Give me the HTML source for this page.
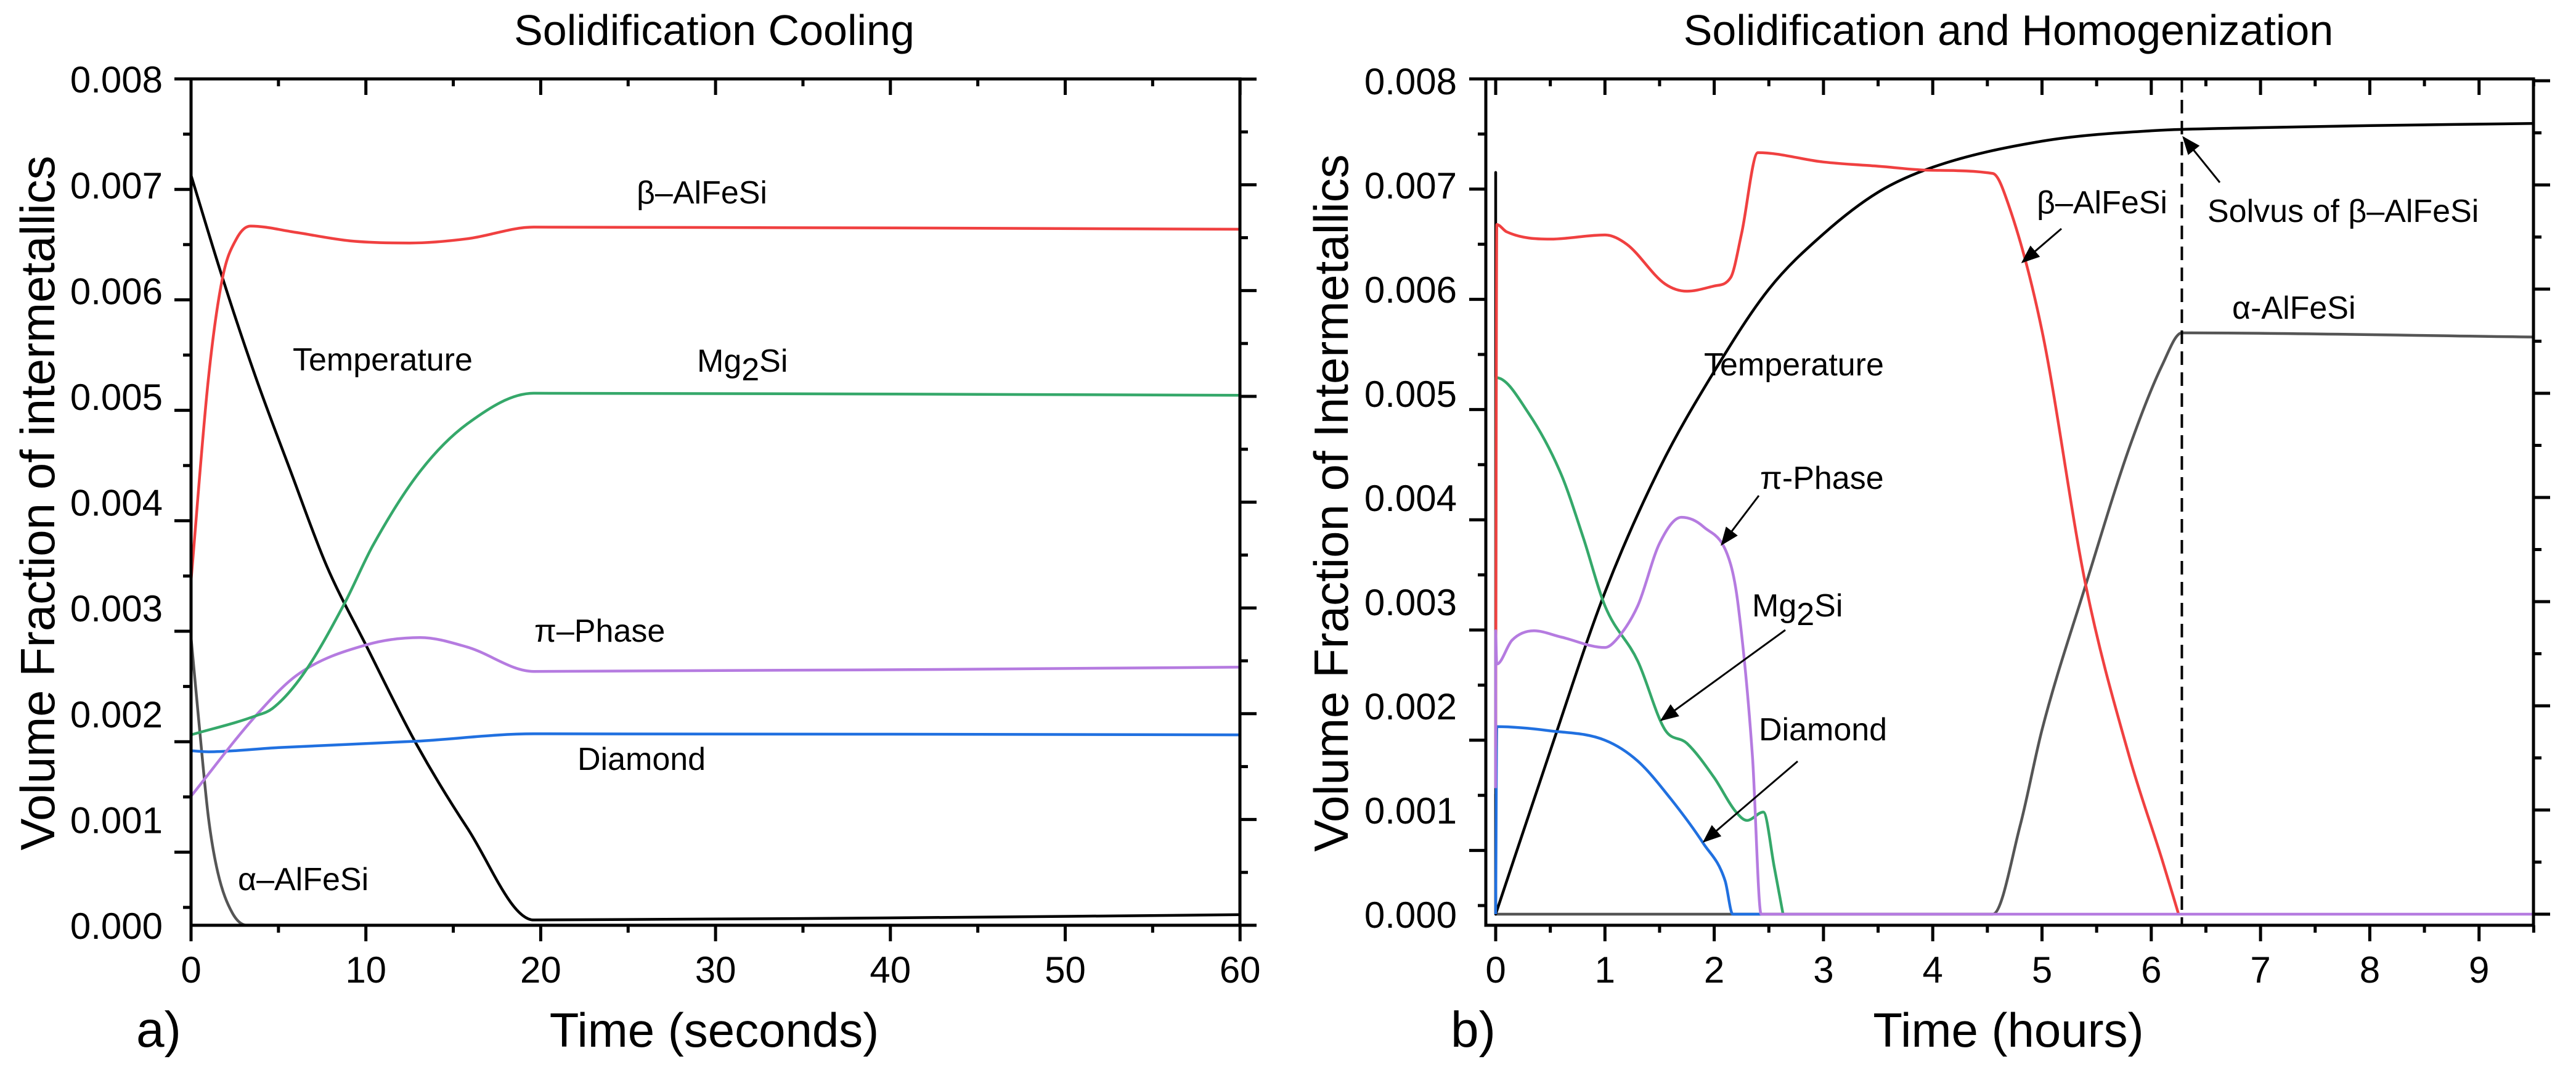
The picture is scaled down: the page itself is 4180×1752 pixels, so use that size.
<!DOCTYPE html>
<html><head><meta charset="utf-8"><style>
html,body{margin:0;padding:0;background:#fff;}
svg{display:block;font-family:"Liberation Sans",sans-serif;}
</style></head><body>
<svg id="chart" width="4180" height="1752" viewBox="0 0 4180 1752" xmlns="http://www.w3.org/2000/svg">
<rect width="4180" height="1752" fill="#fff"/>
<g id="plotA"></g>
<g id="plotB"></g>
<g id="labels" font-size="52" fill="#000">
 <text x="1159" y="73" font-size="70" text-anchor="middle">Solidification Cooling</text>
 <text x="3259" y="73" font-size="70" text-anchor="middle">Solidification and Homogenization</text>
 <text transform="translate(88,816) rotate(-90)" font-size="78" text-anchor="middle">Volume Fraction of intermetallics</text>
 <text transform="translate(2187,816) rotate(-90)" font-size="78" text-anchor="middle">Volume Fraction of Intermetallics</text>
 <text x="1159" y="1698" font-size="78" text-anchor="middle">Time (seconds)</text>
 <text x="3259" y="1698" font-size="78" text-anchor="middle">Time (hours)</text>
 <text x="221" y="1698" font-size="82">a)</text>
 <text x="2354" y="1698" font-size="82">b)</text>
 <text x="1033" y="330">β–AlFeSi</text>
 <text x="475" y="601">Temperature</text>
 <text x="1131" y="603">Mg<tspan dy="14">2</tspan><tspan dy="-14">Si</tspan></text>
 <text x="867" y="1041">π–Phase</text>
 <text x="937" y="1249">Diamond</text>
 <text x="386" y="1444">α–AlFeSi</text>
 <text x="3305" y="346">β–AlFeSi</text>
 <text x="3582" y="360">Solvus of β–AlFeSi</text>
 <text x="3622" y="517">α-AlFeSi</text>
 <text x="2765" y="609">Temperature</text>
 <text x="2856" y="793">π-Phase</text>
 <text x="2843" y="1000">Mg<tspan dy="14">2</tspan><tspan dy="-14">Si</tspan></text>
 <text x="2854" y="1201">Diamond</text>
</g>
</svg>
<script>
// ---- Panel a data (time in seconds, volume fraction in 1e-3) ----
const aBetaT = [0,1,1.8,2.6,3.4,6,9.1,12.5,15.8,19.6,60];
const aBetaV = [3.26,5.18,6.12,6.49,6.61,6.55,6.47,6.45,6.49,6.60,6.58];
const aTempT = [0,1.8,3.7,5.7,7.75,10,12.9,15.8,19.6,40,60];
const aTempV = [7.09,6.12,5.18,4.29,3.40,2.65,1.71,0.92,0.05,0.07,0.10];
const aMgT = [0,3.7,4.66,6.4,8.8,10.4,13.1,15.8,19.6,60];
const aMgV = [1.80,1.98,2.05,2.37,3.05,3.59,4.29,4.74,5.03,5.01];
const aPiT = [0,3.7,6.1,10,13.1,15.8,19.6,60];
const aPiV = [1.22,1.98,2.37,2.65,2.72,2.63,2.40,2.44];
const aDiaT = [0,1,5,12.9,19.6,60];
const aDiaV = [1.65,1.64,1.68,1.74,1.81,1.80];
const aAlphaT = [0,0.46,1.0,1.53,2.35,3.2,3.6];
const aAlphaV = [2.72,1.90,1.01,0.50,0.12,0,0];
const aXTicks = [0,10,20,30,40,50,60];
const aYTicks = [0,1,2,3,4,5,6,7,8];

// ---- Panel b data (time in hours, volume fraction in 1e-3) ----
const bTempT = [0,0,0,0.5,1,1.5,2,2.5,3,3.5,4,5,6,7,8,9.5];
const bTempV = [0,7.12,0,1.57,3.09,4.28,5.21,6.0,6.53,6.93,7.17,7.42,7.52,7.55,7.57,7.59];
const bBetaT = [0,0.01,0.1,0.5,1.0,1.2,1.55,1.75,2.0,2.15,2.25,2.4,3,3.5,4,4.55,4.7,5.0,5.4,5.8,6.1,6.25];
const bBetaV = [1.6,6.62,6.55,6.48,6.52,6.43,6.05,5.98,6.03,6.11,6.53,7.31,7.22,7.18,7.14,7.11,6.79,5.6,3.16,1.51,0.52,0];
const bAlphaT = [0,0,0,4.55,4.8,5.0,5.4,5.8,6.1,6.28,9.5];
const bAlphaV = [0,1.15,0,0,0.85,1.77,3.16,4.48,5.27,5.58,5.54];
const bMgT = [0,0.005,0.3,0.6,0.8,1.0,1.3,1.55,1.75,2.0,2.2,2.3,2.45,2.55,2.63];
const bMgV = [1.5,5.15,4.81,4.22,3.62,2.96,2.43,1.77,1.64,1.31,0.98,0.90,0.98,0.45,0];
const bPiT = [0,0,0.01,0.15,0.35,0.6,1.0,1.1,1.3,1.5,1.7,1.9,2.15,2.22,2.35,2.43,9.5];
const bPiV = [1.21,2.72,2.40,2.63,2.72,2.66,2.56,2.63,2.96,3.56,3.81,3.72,3.36,2.96,1.51,0,0];
const bDiaT = [0,0.01,0.5,1.0,1.3,1.6,1.9,2.1,2.17,2.43];
const bDiaV = [0,1.80,1.76,1.67,1.47,1.11,0.68,0.32,0,0];
const bXTicks = [0,1,2,3,4,5,6,7,8,9];
const bYTicks = [0,1,2,3,4,5,6,7,8];
const bSolvusT = 6.28;

const NS = "http://www.w3.org/2000/svg";
function mk(parent, tag, attrs){const e=document.createElementNS(NS,tag);for(const k in attrs)e.setAttribute(k,attrs[k]);parent.appendChild(e);return e;}
const f=n=>n.toFixed(1);
function monoRun(P){
  const n=P.length; if(n<2) return "";
  const d=[],m=new Array(n);
  for(let i=0;i<n-1;i++) d.push((P[i+1][1]-P[i][1])/(P[i+1][0]-P[i][0]));
  m[0]=d[0]; m[n-1]=d[n-2];
  for(let i=1;i<n-1;i++) m[i]=(d[i-1]*d[i]<=0)?0:(d[i-1]+d[i])/2;
  for(let i=0;i<n-1;i++){
    if(d[i]===0){m[i]=0;m[i+1]=0;continue;}
    const a=m[i]/d[i],b=m[i+1]/d[i],s=a*a+b*b;
    if(s>9){const t=3/Math.sqrt(s);m[i]=t*a*d[i];m[i+1]=t*b*d[i];}
  }
  let s="";
  for(let i=0;i<n-1;i++){
    const h=(P[i+1][0]-P[i][0])/3;
    s+=" C"+f(P[i][0]+h)+","+f(P[i][1]+m[i]*h)+" "+f(P[i+1][0]-h)+","+f(P[i+1][1]-m[i+1]*h)+" "+f(P[i+1][0])+","+f(P[i+1][1]);
  }
  return s;
}
function smoothPath(P){
  let d="M"+f(P[0][0])+","+f(P[0][1]);
  let run=[P[0]];
  for(let i=1;i<P.length;i++){
    if(P[i][0]-P[i-1][0]<0.5){
      d+=monoRun(run); d+=" L"+f(P[i][0])+","+f(P[i][1]); run=[P[i]];
    } else run.push(P[i]);
  }
  d+=monoRun(run);
  return d;
}

function drawPanel(g, cfg){
  const {L,R,T,B,x,y,xTicks,xMinorStep,xMax,yTicks,leftTickTop,leftTickStep,series,prefix}=cfg;
  series.forEach(s=>{
    const P=s.t.map((t,i)=>[x(t),y(s.v[i])]);
    const p=mk(g,"path",{d:smoothPath(P),fill:"none",stroke:s.c,"stroke-width":s.w||4.5,"stroke-linejoin":"round"});
    
    
  });
  const fr=mk(g,"rect",{x:L,y:T,width:R-L,height:B-T,fill:"none",stroke:"#000","stroke-width":5});
  
  
  for(let t=xTicks[0]; t<=xMax+1e-9; t+=xMinorStep){
    const major=Math.abs(Math.round(t/(xMinorStep*2))*(xMinorStep*2)-t)<1e-6;
    const px=x(t);
    const len=major?26:12;
    const tk=mk(g,"line",{x1:px,y1:B,x2:px,y2:B+len,stroke:"#000","stroke-width":5});
    
    
    const tk2=mk(g,"line",{x1:px,y1:T,x2:px,y2:T+len,stroke:"#000","stroke-width":5});
    
    
  }
  xTicks.forEach(t=>{
    const tx=mk(g,"text",{x:x(t),y:1594,"font-size":60,"text-anchor":"middle"});
    tx.textContent=String(t);
    
    
  });
  for(let k=0;k<16;k++){
    const py=leftTickTop+k*leftTickStep;
    const len=(k%2===0)?27:13;
    const tk=mk(g,"line",{x1:L-len,y1:py,x2:L,y2:py,stroke:"#000","stroke-width":5});
    
    
  }
  for(let v=0;v<=8.001;v+=0.5){
    const py=y(v);
    const len=(Math.abs(v-Math.round(v))<1e-6)?27:13;
    const tk=mk(g,"line",{x1:R,y1:py,x2:R+len,y2:py,stroke:"#000","stroke-width":5});
    
    
  }
  yTicks.forEach(v=>{
    const tx=mk(g,"text",{x:cfg.yLabelX,y:y(v)+22,"font-size":60,"text-anchor":"end"});
    tx.textContent="0.00"+v;
    
    
  });
}

const xA=t=>310+t*28.37, yA=v=>1501-v*171.6;
drawPanel(document.getElementById("plotA"),{
  prefix:"a",L:310,R:2012,T:128,B:1501,x:xA,y:yA,xTicks:aXTicks,xMinorStep:5,xMax:60,
  yTicks:aYTicks,leftTickTop:128,leftTickStep:89.6,yLabelX:264,
  series:[
    {n:"alpha-alfesi",t:aAlphaT,v:aAlphaV,c:"#555555"},
    {n:"temperature",t:aTempT,v:aTempV,c:"#000000"},
    {n:"diamond",t:aDiaT,v:aDiaV,c:"#2070e0"},
    {n:"pi-phase",t:aPiT,v:aPiV,c:"#b57be0"},
    {n:"mg2si",t:aMgT,v:aMgV,c:"#35a86a"},
    {n:"beta-alfesi",t:aBetaT,v:aBetaV,c:"#f04040"}
  ]});

const xB=t=>2427+t*177.3, yB=v=>1483-v*169;
const gB=document.getElementById("plotB");
drawPanel(gB,{
  prefix:"b",L:2411,R:4111,T:128,B:1501,x:xB,y:yB,xTicks:bXTicks,xMinorStep:0.5,xMax:9.5,
  yTicks:bYTicks,leftTickTop:128,leftTickStep:89.4,yLabelX:2364,
  series:[
    {n:"alpha-alfesi",t:bAlphaT,v:bAlphaV,c:"#555555"},
    {n:"temperature",t:bTempT,v:bTempV,c:"#000000"},
    {n:"diamond",t:bDiaT,v:bDiaV,c:"#2070e0"},
    {n:"mg2si",t:bMgT,v:bMgV,c:"#35a86a"},
    {n:"beta-alfesi",t:bBetaT,v:bBetaV,c:"#f04040"},
    {n:"pi-phase",t:bPiT,v:bPiV,c:"#b57be0"}
  ]});
const sl=mk(gB,"line",{x1:xB(bSolvusT),y1:128,x2:xB(bSolvusT),y2:1501,stroke:"#000","stroke-width":4,"stroke-dasharray":"22,12"});


const defs=mk(document.getElementById("chart"),"defs",{});
const mkr=mk(defs,"marker",{id:"ah",markerWidth:30,markerHeight:24,refX:9,refY:4,orient:"auto",markerUnits:"userSpaceOnUse",viewBox:"0 0 10 8"});
mk(mkr,"path",{d:"M0,0 L10,4 L0,8 z",fill:"#000"});
const arrows=[["beta",3345,371,3282,425],["solvus",3602,296,3543,223],["pi",2854,804,2794,883],["mg2si",2897,1022,2696,1168],["diamond",2917,1235,2765,1365]];
arrows.forEach(a=>{
  const l=mk(gB,"line",{x1:a[1],y1:a[2],x2:a[3],y2:a[4],stroke:"#000","stroke-width":3,"marker-end":"url(#ah)"});
  
  
});
</script>
</body></html>
